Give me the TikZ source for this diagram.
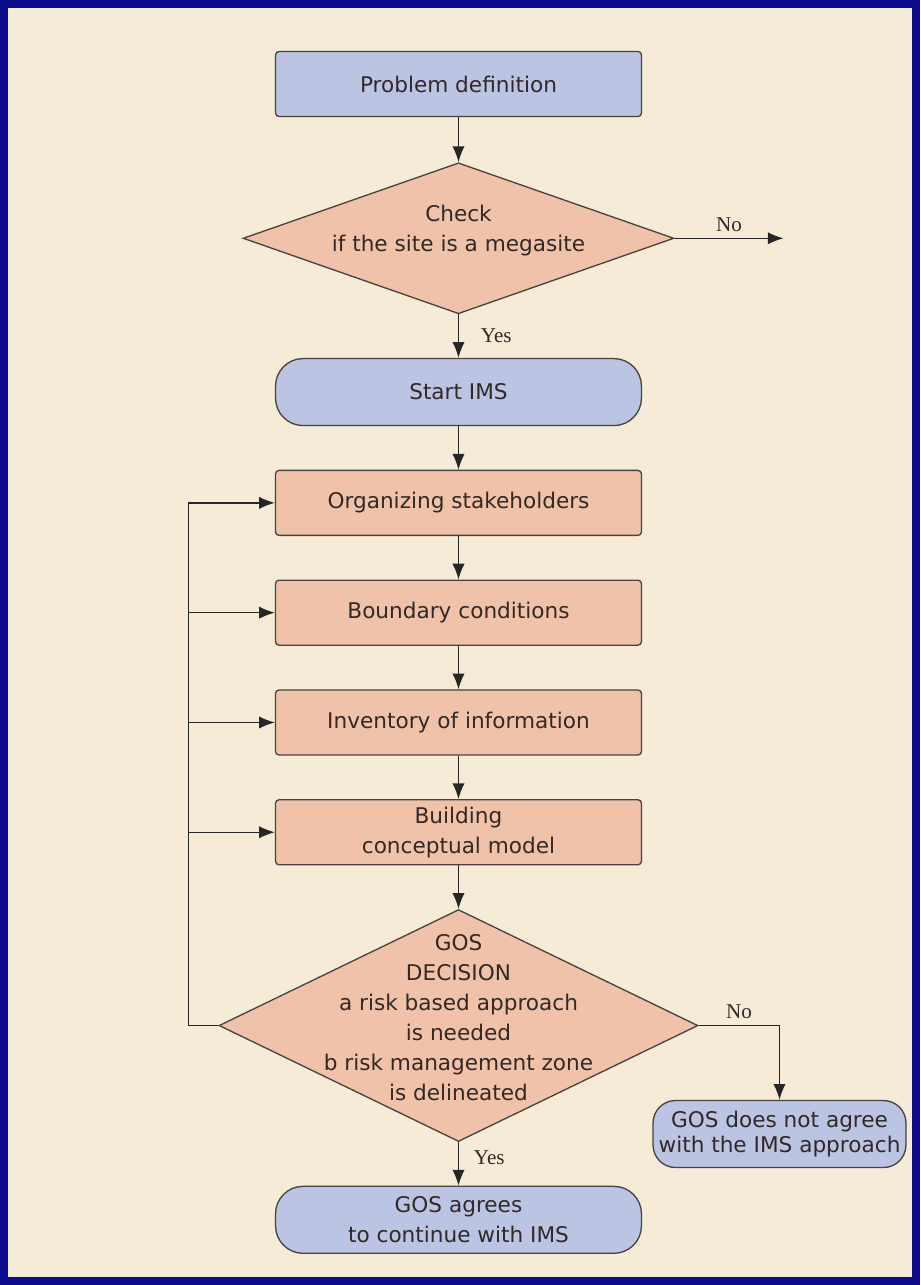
\documentclass[tikz,border=0pt]{standalone}
\usepackage{fontspec}
\setmainfont{DejaVu Sans}
\newfontfamily\lblfont{Liberation Serif}
\usetikzlibrary{shapes.geometric, arrows.meta, positioning}
\definecolor{slideblue}{RGB}{12, 12, 140}
\definecolor{paper}{RGB}{245, 235, 215}
\definecolor{stepblue}{RGB}{188, 196, 227}
\definecolor{stepsalmon}{RGB}{240, 194, 170}
\definecolor{edgegray}{RGB}{72, 66, 64}
\definecolor{inkgray}{RGB}{50, 40, 38}

\begin{document}
\begin{tikzpicture}[
    x=0.02cm, y=-0.02cm,
    node distance=0.87cm,
    every node/.style={font=\fontsize{12.3}{17}\selectfont, text=inkgray, align=center},
    box/.style={rectangle, draw=edgegray, fill=stepsalmon, line width=0.75pt,
        minimum width=7.32cm, minimum height=1.3cm, rounded corners=2pt},
    bluebox/.style={box, fill=stepblue},
    term/.style={box, fill=stepblue, rounded corners=0.55cm, minimum height=1.34cm},
    decision/.style={diamond, draw=edgegray, fill=stepsalmon, line width=0.75pt, inner sep=0pt},
    yesno/.style={font=\lblfont\fontsize{12}{14}\selectfont, text=inkgray},
    arrow/.style={line width=0.85pt, draw=black!85, -{Latex[length=9pt,width=7pt]}}
]
    % Slide background
    \fill[slideblue] (0,0) rectangle (920,1285);
    \fill[paper] (8,8) rectangle (912,1277);

    % Main column
    \node[bluebox] (problem) at (458.5,84) {Problem definition};
    \node[decision, minimum width=8.62cm, minimum height=3.02cm, below=0.9cm of problem] (megasite) {};
    \node[yshift=0.16cm] (megasitetxt) at (megasite.center) {Check\\if the site is a megasite};
    \node[term, below=of megasite] (start) {Start IMS};
    \node[box, below=of start] (org) {Organizing stakeholders};
    \node[box, below=of org] (bnd) {Boundary conditions};
    \node[box, below=of bnd] (inv) {Inventory of information};
    \node[box, below=of inv] (bld) {Building\\conceptual model};

    % GOS decision
    \node[decision, minimum width=9.58cm, minimum height=4.64cm, below=of bld] (gos) {};
    \node[yshift=0.16cm] (gostxt) at (gos.center) {GOS\\DECISION\\a risk based approach\\is needed\\b risk management zone\\is delineated};
    \node[term, below=of gos] (agrees) {GOS agrees\\to continue with IMS};
    \node[term, minimum width=5.06cm, inner xsep=2pt, rounded corners=0.45cm,
        font=\fontsize{12.3}{14}\selectfont] (gosno) at (779.5,1134) {GOS does not agree\\with the IMS approach};

    \coordinate[right=2.18cm of megasite.east] (megasiteno);
    \coordinate[left=0.6cm of gos.west] (loopcorner);

    % Arrows
    \draw[arrow] (problem) -- (megasite);
    \draw[arrow] (megasite.east) -- node[yesno, above] (no1) {No} (megasiteno);
    \draw[arrow] (megasite) -- node[yesno, right=9pt] (yes1) {Yes} (start);
    \draw[arrow] (start) -- (org);
    \draw[arrow] (org) -- (bnd);
    \draw[arrow] (bnd) -- (inv);
    \draw[arrow] (inv) -- (bld);
    \draw[arrow] (bld) -- (gos);
    \draw[arrow] (gos.west) -- (loopcorner) |- (org.west);
    \draw[arrow] (loopcorner |- bnd.west) -- (bnd.west);
    \draw[arrow] (loopcorner |- inv.west) -- (inv.west);
    \draw[arrow] (loopcorner |- bld.west) -- (bld.west);
    \draw[arrow] (gos.east) -| node[yesno, pos=0.25, above] (no2) {No} (gosno.north);
    \draw[arrow] (gos) -- node[yesno, pos=0.35, right=5pt] (yes2) {Yes} (agrees);
\end{tikzpicture}
\end{document}
